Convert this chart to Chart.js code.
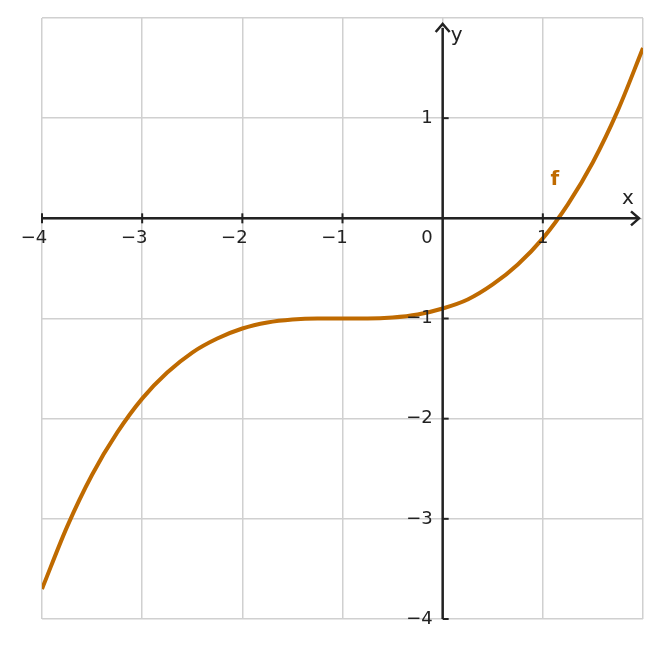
<!DOCTYPE html>
<html>
<head>
<meta charset="utf-8">
<script src="https://cdn.jsdelivr.net/npm/chart.js@4.4.0/dist/chart.umd.min.js"></script>
<style>
  body { margin: 0; background: #fff; }
  #wrap { width: 661px; height: 648px; }
</style>
</head>
<body>
<div id="wrap"><canvas id="plot"></canvas></div>
<script>
let xValues = [-4, -3.75, -3.5, -3.25, -3, -2.75, -2.5, -2.25, -2, -1.75, -1.5, -1.25, -1,
               -0.75, -0.5, -0.25, 0, 0.25, 0.5, 0.75, 1, 1.25, 1.5, 1.75, 2];
let yValues = [-3.7, -3.08, -2.56, -2.14, -1.8, -1.54, -1.34, -1.2, -1.1, -1.04, -1.01, -1.0, -1.0,
               -1.0, -0.99, -0.96, -0.9, -0.81, -0.66, -0.46, -0.2, 0.14, 0.56, 1.08, 1.7];
let xTicks = [-4, -3, -2, -1, 1];
let yTicks = [1, -1, -2, -3, -4];

const ink = "#222";
const curveColor = "#bf6a00";
const font = '18px "DejaVu Sans"';

function minus(v) { return String(v).replace("-", "\u2212"); }

// draws the axes through the origin, arrows, tick marks and labels
const axesPlugin = {
    id: "axesThroughOrigin",
    afterDatasetsDraw(chart) {
        let ctx = chart.ctx;
        let xs = chart.scales.x, ys = chart.scales.y;
        let x0 = xs.getPixelForValue(0), y0 = ys.getPixelForValue(0);
        let area = chart.chartArea;
        ctx.save();
        ctx.strokeStyle = ink;
        ctx.fillStyle = ink;
        ctx.lineWidth = 2.5;
        ctx.beginPath();
        ctx.moveTo(area.left, y0); ctx.lineTo(area.right - 4, y0);
        ctx.moveTo(x0, area.bottom); ctx.lineTo(x0, area.top + 10);
        ctx.stroke();
        // arrows
        ctx.lineWidth = 2.5;
        ctx.beginPath();
        ctx.moveTo(area.right - 12, y0 - 7); ctx.lineTo(area.right - 4, y0); ctx.lineTo(area.right - 12, y0 + 7);
        ctx.moveTo(x0 - 7, area.top + 14); ctx.lineTo(x0, area.top + 6); ctx.lineTo(x0 + 7, area.top + 14);
        ctx.stroke();

        ctx.font = font;
        ctx.lineWidth = 2;
        ctx.textAlign = "center";
        ctx.textBaseline = "middle";
        xTicks.forEach(v => {
            let px = xs.getPixelForValue(v);
            ctx.beginPath(); ctx.moveTo(px, y0 - 5); ctx.lineTo(px, y0 + 5); ctx.stroke();
            ctx.fillText(minus(v), px - (v < 0 ? 8 : 0), y0 + 20);
        });
        ctx.textAlign = "right";
        yTicks.forEach(v => {
            let py = ys.getPixelForValue(v);
            ctx.beginPath(); ctx.moveTo(x0, py); ctx.lineTo(x0 + 6, py); ctx.stroke();
            ctx.fillText(minus(v), x0 - 10, py);
        });
        ctx.fillText("0", x0 - 10, y0 + 20);
        ctx.textAlign = "center";
        ctx.font = '20px "DejaVu Sans"';
        ctx.fillText("x", area.right - 15, y0 - 20);
        ctx.fillText("y", x0 + 14, area.top + 18);
        ctx.fillStyle = curveColor;
        ctx.font = 'bold 20px "DejaVu Sans"';
        ctx.fillText("f", xs.getPixelForValue(1.12), ys.getPixelForValue(0.38));
        ctx.restore();
    }
};

new Chart(document.getElementById("plot").getContext("2d"), {
    type: "line",
    data: {
        datasets: [{
            label: "f",
            data: xValues.map((x, i) => ({ x: x, y: yValues[i] })),
            borderColor: curveColor,
            borderWidth: 4,
            pointRadius: 0,
            tension: 0.4,
            cubicInterpolationMode: "monotone"
        }]
    },
    options: {
        responsive: true,
        maintainAspectRatio: false,
        animation: false,
        layout: { padding: { left: 42, right: 18, top: 18, bottom: 29 } },
        plugins: { legend: { display: false }, tooltip: { enabled: false } },
        scales: {
            x: {
                type: "linear", min: -4, max: 2,
                ticks: { display: false, stepSize: 1 },
                grid: { color: "#d0d0d0", lineWidth: 1.5, drawTicks: false },
                border: { display: false }
            },
            y: {
                type: "linear", min: -4, max: 2,
                ticks: { display: false, stepSize: 1 },
                grid: { color: "#d0d0d0", lineWidth: 1.5, drawTicks: false },
                border: { display: false }
            }
        }
    },
    plugins: [axesPlugin]
});
</script>
</body>
</html>
